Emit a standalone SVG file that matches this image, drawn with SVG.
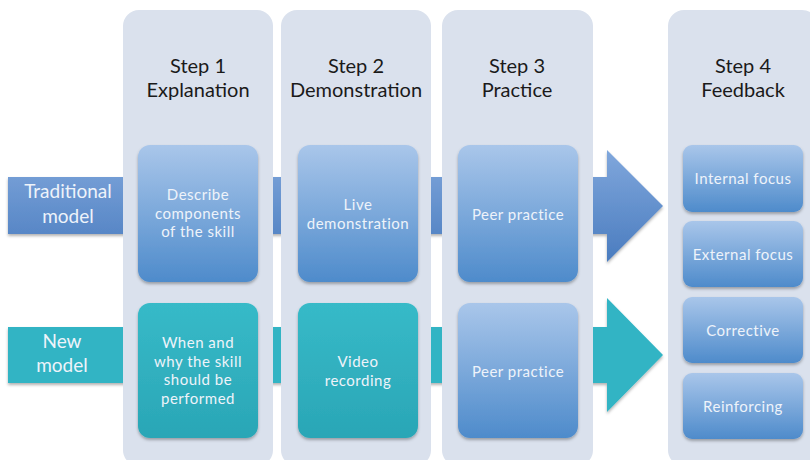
<svg xmlns="http://www.w3.org/2000/svg" width="810" height="460" viewBox="0 0 810 460">
<defs>
<linearGradient id="gArrowBlue" x1="0" y1="0" x2="0" y2="1"><stop offset="0" stop-color="#80a7dc"/><stop offset="1" stop-color="#4a7cbf"/></linearGradient>
<linearGradient id="gBox" x1="0" y1="0" x2="0" y2="1"><stop offset="0" stop-color="#a9c6ea"/><stop offset="1" stop-color="#4e8bcb"/></linearGradient>
<linearGradient id="gTeal" x1="0" y1="0" x2="0" y2="1"><stop offset="0" stop-color="#37bac8"/><stop offset="1" stop-color="#2aa6b6"/></linearGradient>
<filter id="sh" x="-10%" y="-10%" width="120%" height="125%"><feDropShadow dx="0" dy="2" stdDeviation="1.5" flood-color="#000" flood-opacity="0.3"/></filter>
<style>
.col{fill:#dae1ed;}
.hd{font-family:Lato,"Open Sans",sans-serif;font-size:20px;fill:#1a1a1a;text-anchor:middle;}
.bx{font-family:Lato,"Open Sans",sans-serif;font-size:15px;letter-spacing:0.5px;fill:#eef3fa;text-anchor:middle;}
.lb{font-family:Lato,"Open Sans",sans-serif;font-size:19px;fill:#eef3fa;text-anchor:middle;}
.blue{fill:url(#gBox);filter:url(#sh);}
.teal{fill:url(#gTeal);filter:url(#sh);}
</style>
</defs>
<rect width="810" height="460" fill="#ffffff"/>
<g id="connectors">
<path d="M8,177 H607 V150 L663,206 L607,262 V234 H8 Z" fill="url(#gArrowBlue)" filter="url(#sh)"/>
<path d="M8,327 H607 V298 L663,355 L607,412 V383 H8 Z" fill="#31b4c4" filter="url(#sh)"/>
<text class="lb" x="68" y="198">Traditional</text>
<text class="lb" x="68" y="223">model</text>
<text class="lb" x="62" y="348">New</text>
<text class="lb" x="62" y="372">model</text>
</g>
<g id="step1">
<rect class="col" x="123" y="10" width="150" height="456" rx="16"/>
<text class="hd" x="198" y="73">Step 1</text>
<text class="hd" x="198" y="97">Explanation</text>
</g>
<g id="step2">
<rect class="col" x="281" y="10" width="150" height="456" rx="16"/>
<text class="hd" x="356" y="73">Step 2</text>
<text class="hd" x="356" y="97">Demonstration</text>
</g>
<g id="step3">
<rect class="col" x="442" y="10" width="151" height="456" rx="16"/>
<text class="hd" x="517" y="73">Step 3</text>
<text class="hd" x="517" y="97">Practice</text>
</g>
<g id="step4">
<rect class="col" x="668" y="10" width="150" height="456" rx="16"/>
<text class="hd" x="743" y="73">Step 4</text>
<text class="hd" x="743" y="97">Feedback</text>
</g>
<g id="describe">
<rect class="blue" x="138" y="145" width="120" height="137" rx="12"/>
<text class="bx" x="198" y="200">Describe</text>
<text class="bx" x="198" y="218.5">components</text>
<text class="bx" x="198" y="237">of the skill</text>
</g>
<g id="live">
<rect class="blue" x="298" y="145" width="120" height="137" rx="12"/>
<text class="bx" x="358" y="210">Live</text>
<text class="bx" x="358" y="228.5">demonstration</text>
</g>
<g id="peer1">
<rect class="blue" x="458" y="145" width="120" height="137" rx="12"/>
<text class="bx" x="518" y="220">Peer practice</text>
</g>
<g id="whenwhy">
<rect class="teal" x="138" y="303" width="120" height="135" rx="12"/>
<text class="bx" x="198" y="348">When and</text>
<text class="bx" x="198" y="366.5">why the skill</text>
<text class="bx" x="198" y="385">should be</text>
<text class="bx" x="198" y="403.5">performed</text>
</g>
<g id="video">
<rect class="teal" x="298" y="303" width="120" height="135" rx="12"/>
<text class="bx" x="358" y="367">Video</text>
<text class="bx" x="358" y="385.5">recording</text>
</g>
<g id="peer2">
<rect class="blue" x="458" y="303" width="120" height="135" rx="12"/>
<text class="bx" x="518" y="377">Peer practice</text>
</g>
<g id="internal">
<rect class="blue" x="683" y="145" width="120" height="67" rx="9"/>
<text class="bx" x="743" y="184">Internal focus</text>
</g>
<g id="external">
<rect class="blue" x="683" y="221" width="120" height="66" rx="9"/>
<text class="bx" x="743" y="260">External focus</text>
</g>
<g id="corrective">
<rect class="blue" x="683" y="297" width="120" height="66" rx="9"/>
<text class="bx" x="743" y="336">Corrective</text>
</g>
<g id="reinforcing">
<rect class="blue" x="683" y="373" width="120" height="66" rx="9"/>
<text class="bx" x="743" y="412">Reinforcing</text>
</g>
</svg>
